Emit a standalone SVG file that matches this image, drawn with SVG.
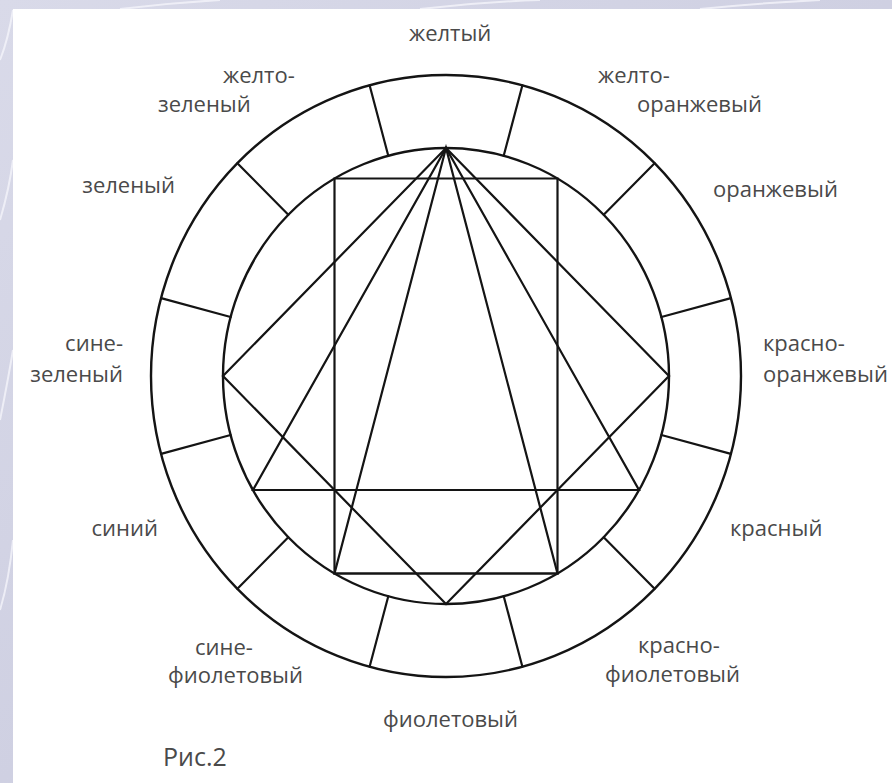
<svg xmlns="http://www.w3.org/2000/svg" width="892" height="783" viewBox="0 0 892 783">
  <defs>
    <linearGradient id="marble" x1="0" y1="0" x2="1" y2="1">
      <stop offset="0" stop-color="#d9dae9"/>
      <stop offset="0.5" stop-color="#cfd0e2"/>
      <stop offset="1" stop-color="#dcdcea"/>
    </linearGradient>
  </defs>
  <style>
    .ring { fill: none; stroke: #141414; stroke-width: 2.4; }
    .line { stroke: #141414; stroke-width: 2.2; stroke-linecap: round; fill: none; }
    .lbl { font-family: "Open Sans", "Noto Sans", "DejaVu Sans", sans-serif; font-size: 22px; fill: #4a4a4a; }
    .cap { font-family: "Open Sans", "Noto Sans", "DejaVu Sans", sans-serif; font-size: 25px; fill: #4a4a4a; }
    .streak { stroke: #f4f4fa; stroke-width: 2; opacity: 0.8; fill: none; }
  </style>

  <!-- marble background -->
  <rect x="0" y="0" width="892" height="783" fill="url(#marble)"/>
  <g id="streaks">
    <path class="streak" d="M0 60 Q 8 40 13 10"/>
    <path class="streak" d="M0 220 Q 9 190 13 160"/>
    <path class="streak" d="M0 420 Q 8 380 13 350"/>
    <path class="streak" d="M0 610 Q 9 580 13 540"/>
    <path class="streak" d="M120 9 Q 170 3 220 0"/>
    <path class="streak" d="M420 9 Q 480 2 540 0"/>
    <path class="streak" d="M700 9 Q 760 3 820 0"/>
  </g>
  <rect id="panel" x="13" y="9" width="879" height="774" fill="#ffffff"/>

  <!-- colour wheel -->
  <g id="wheel">
    <ellipse class="ring" cx="446" cy="376" rx="295" ry="301"/>
    <ellipse class="ring" cx="446" cy="376" rx="223" ry="228"/>
  </g>

  <g id="dividers" class="line">
    <line x1="503.7" y1="155.8" x2="522.4" y2="85.3"/>
    <line x1="603.7" y1="214.8" x2="654.6" y2="163.2"/>
    <line x1="661.4" y1="317.0" x2="730.9" y2="298.1"/>
    <line x1="661.4" y1="435.0" x2="730.9" y2="453.9"/>
    <line x1="603.7" y1="537.2" x2="654.6" y2="588.8"/>
    <line x1="503.7" y1="596.2" x2="522.4" y2="666.7"/>
    <line x1="388.3" y1="596.2" x2="369.6" y2="666.7"/>
    <line x1="288.3" y1="537.2" x2="237.4" y2="588.8"/>
    <line x1="230.6" y1="435.0" x2="161.1" y2="453.9"/>
    <line x1="230.6" y1="317.0" x2="161.1" y2="298.1"/>
    <line x1="288.3" y1="214.8" x2="237.4" y2="163.2"/>
    <line x1="388.3" y1="155.8" x2="369.6" y2="85.3"/>
  </g>

  <!-- inscribed figures -->
  <g id="figures" class="line">
    <polygon id="square" points="446,148 669,376 446,604 223,376"/>
    <polygon id="rectangle" points="334.5,178.5 557.5,178.5 557.5,573.5 334.5,573.5"/>
    <polygon id="equilateral-triangle" points="446,148 639,490 253,490"/>
    <polygon id="isosceles-triangle" points="446,148 557.5,573.5 334.5,573.5"/>
  </g>

  <!-- labels -->
  <g id="labels" class="lbl">
    <text id="l-yellow" x="409" y="41">желтый</text>
    <text id="l-yellow-green" x="223" y="83">желто-<tspan x="158" y="112">зеленый</tspan></text>
    <text id="l-yellow-orange" x="598" y="83">желто-<tspan x="637" y="112">оранжевый</tspan></text>
    <text id="l-green" x="175" y="193" text-anchor="end">зеленый</text>
    <text id="l-orange" x="713" y="197">оранжевый</text>
    <text id="l-blue-green" x="123" y="351" text-anchor="end">сине-<tspan x="123" y="382">зеленый</tspan></text>
    <text id="l-red-orange" x="763" y="351">красно-<tspan x="763" y="382">оранжевый</tspan></text>
    <text id="l-blue" x="158" y="536" text-anchor="end">синий</text>
    <text id="l-red" x="730" y="536">красный</text>
    <text id="l-blue-violet" x="195" y="655">сине-<tspan x="168" y="683">фиолетовый</tspan></text>
    <text id="l-red-violet" x="638" y="653">красно-<tspan x="605" y="682">фиолетовый</tspan></text>
    <text id="l-violet" x="383" y="727">фиолетовый</text>
  </g>
  <text id="caption" class="cap" x="163" y="766">Рис.2</text>
</svg>
